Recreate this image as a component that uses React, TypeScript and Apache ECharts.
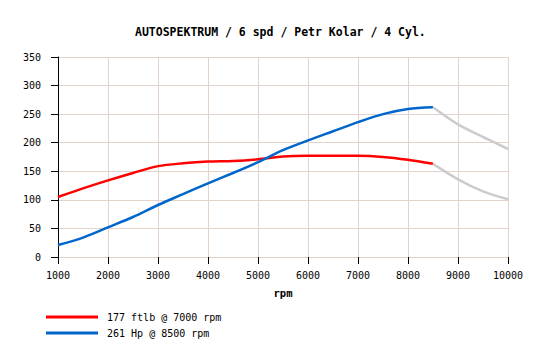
import React, { useEffect, useRef } from "react";
import * as echarts from "echarts";

const rpm = [1000, 1500, 2000, 2500, 3000, 3500, 4000, 4500, 5000, 5500, 6000, 6500, 7000, 7500, 8000, 8500];
const torque = [105, 120, 134, 147, 159, 164, 167, 168, 171, 176, 177, 177, 177, 175, 170, 163];
const power = [21, 34, 52, 70, 91, 110, 129, 147, 166, 187, 204, 220, 236, 250, 259, 262];
const extRpm = [8500, 9000, 9500, 10000];
const torqueExt = [163, 136, 115, 101];
const powerExt = [262, 232, 210, 189];

const torqueLabel = "177 ftlb @ 7000 rpm";
const powerLabel = "261 Hp @ 8500 rpm";
const title = "AUTOSPEKTRUM / 6 spd / Petr Kolar / 4 Cyl.";

const zip = (xs: number[], ys: number[]) => xs.map((x, i) => [x, ys[i]]);

export default function App() {
  const ref = useRef<HTMLDivElement>(null);
  useEffect(() => {
    const chart = echarts.init(ref.current!, null, { renderer: "svg" });
    const font = "DejaVu Sans Mono";
    const gridColor = "#e2d4ca";
    chart.setOption({
      animation: false,
      backgroundColor: "#ffffff",
      title: {
        text: title,
        left: 130,
        top: 21,
        textStyle: { fontFamily: font, fontSize: 11.5, fontWeight: "bold", color: "#000" },
      },
      grid: { left: 58, right: 37, top: 57, bottom: 100 },
      legend: {
        data: [torqueLabel, powerLabel],
        orient: "vertical",
        left: 46,
        top: 312,
        padding: 0,
        itemWidth: 52,
        itemHeight: 3,
        itemGap: 6,
        icon: "rect",
        textStyle: { fontFamily: font, fontSize: 10, color: "#000", padding: [0, 0, 0, 4] },
      },
      xAxis: {
        type: "value",
        min: 1000,
        max: 10000,
        interval: 1000,
        name: "rpm",
        nameLocation: "middle",
        nameGap: 30,
        nameTextStyle: { fontFamily: font, fontSize: 10.5, fontWeight: "bold", color: "#000" },
        axisLine: { show: true, lineStyle: { color: gridColor, width: 1 } },
        axisTick: { show: true, length: 7, lineStyle: { color: "#000" } },
        axisLabel: { fontFamily: font, fontSize: 10, color: "#000", margin: 13, formatter: (v: number) => String(v) },
        splitLine: { show: true, lineStyle: { color: gridColor, width: 1 } },
      },
      yAxis: {
        type: "value",
        min: 0,
        max: 350,
        interval: 50,
        axisLine: { show: true, lineStyle: { color: "#000", width: 1 } },
        axisTick: { show: true, length: 7, lineStyle: { color: "#000" } },
        axisLabel: { fontFamily: font, fontSize: 10, color: "#000", margin: 17 },
        splitLine: { show: true, lineStyle: { color: gridColor, width: 1 } },
      },
      series: [
        {
          name: torqueLabel,
          type: "line",
          data: zip(rpm, torque),
          smooth: 0.3,
          showSymbol: false,
          lineStyle: { color: "#ff0000", width: 2.5 },
          itemStyle: { color: "#ff0000" },
          z: 3,
        },
        {
          name: powerLabel,
          type: "line",
          data: zip(rpm, power),
          smooth: 0.3,
          showSymbol: false,
          lineStyle: { color: "#0066cc", width: 2.5 },
          itemStyle: { color: "#0066cc" },
          z: 3,
        },
        {
          name: "torqueExt",
          type: "line",
          data: zip(extRpm, torqueExt),
          smooth: 0.3,
          showSymbol: false,
          lineStyle: { color: "#cccccc", width: 2.5 },
          itemStyle: { color: "#cccccc" },
        },
        {
          name: "powerExt",
          type: "line",
          data: zip(extRpm, powerExt),
          smooth: 0.3,
          showSymbol: false,
          lineStyle: { color: "#cccccc", width: 2.5 },
          itemStyle: { color: "#cccccc" },
        },
      ],
    });
    return () => chart.dispose();
  }, []);
  return <div ref={ref} style={{ width: 545, height: 357, position: "absolute", left: 0, top: 0 }} />;
}
